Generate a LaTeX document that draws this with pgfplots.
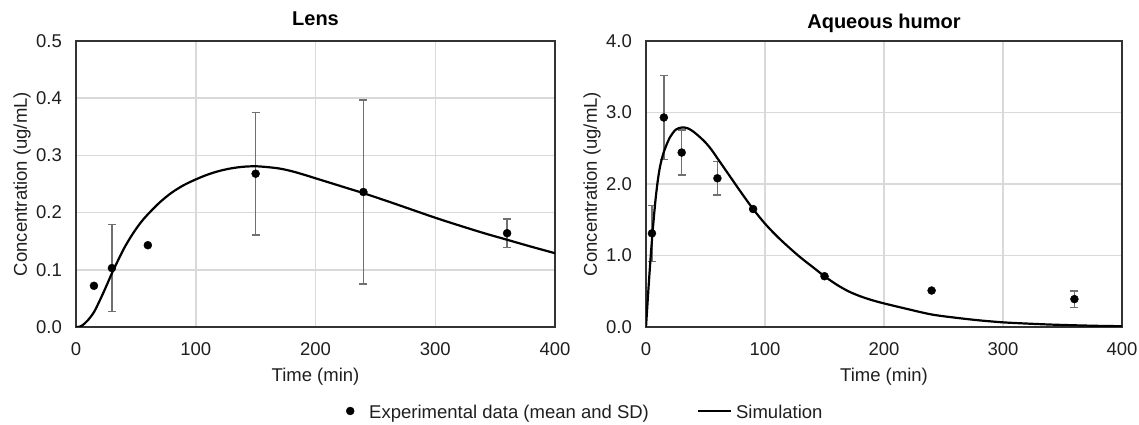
\documentclass[border=0pt]{standalone}
\usepackage{fontspec}
\setmainfont{Liberation Sans}
\usepackage{pgfplots}
\pgfplotsset{compat=1.18}
\definecolor{gridc}{HTML}{D9D9D9}
\definecolor{txt}{HTML}{1F1F1F}
\definecolor{errc}{HTML}{707070}
\definecolor{bord}{HTML}{333333}
\newcommand{\fs}{\fontsize{18.5}{22}\selectfont}
\pgfplotsset{
  chartstyle/.style={
    scale only axis,
    height=286pt,
    anchor=south west,
    xmin=0, xmax=400, xtick={0,100,200,300,400},
    ymin=0,
    grid=major,
    major grid style={draw=gridc, line width=1.5pt},
    axis line style={draw=bord, line width=1.3pt},
    major tick length=0pt,
    /pgf/number format/assume math mode=true,
    tick label style={font=\fs, text=txt},
    xticklabel style={anchor=north, inner sep=0pt, yshift=-15pt},
    yticklabel style={anchor=east, inner sep=0pt, xshift=-14pt, /pgf/number format/.cd, fixed, fixed zerofill, precision=1},
    every axis x label/.style={at={(rel axis cs:0.5,0)}, anchor=center, yshift=-50pt, font=\fs, text=txt},
    every axis y label/.style={at={(rel axis cs:0,0.5)}, anchor=center, xshift=-54pt, rotate=90, font=\fs, text=txt},
    xlabel={Time (min)},
    ylabel={Concentration (ug/mL)},
  },
  titlestyle/.style={every axis title/.style={at={(rel axis cs:0.5,1)}, anchor=base, yshift=#1, font=\fontsize{20}{24}\selectfont\bfseries, text=black}},
  datastyle/.style={only marks, mark=*, mark size=4pt, black,
    error bars/.cd, y dir=both, y explicit,
    error bar style={draw=errc, line width=1.4pt},
    error mark options={rotate=90, mark size=4pt, draw=errc, line width=1.4pt},
    /pgfplots/.cd},
  simstyle/.style={no marks, black, line width=2.2pt, smooth},
  dotlegend/.style={legend image code/.code={\path[draw=none, fill=none] (-4pt,2pt) -- (15pt,2pt); \fill[black] (0pt,2pt) circle[radius=4pt];}},
  linelegend/.style={legend image code/.code={\draw[##1] (0pt,2pt) -- (33pt,2pt);}},
}
\begin{document}
\begin{tikzpicture}
\useasboundingbox (0,0) rectangle (1139pt,425pt);
% ---------------- Lens ----------------
\begin{axis}[chartstyle, titlestyle=15pt,
  at={(76pt,98pt)}, width=479pt,
  ymax=0.5, ytick={0,0.1,0.2,0.3,0.4,0.5},
  title={Lens},
  legend columns=2,
  legend style={at={(0.5637,-0.3007)}, anchor=west, draw=none, fill=none,
    inner sep=0pt, outer sep=0pt, font=\fs, text=txt, nodes={inner sep=0pt},
    /tikz/every odd column/.append style={column sep=4pt},
    /tikz/every even column/.append style={column sep=48pt}},
]
\addplot[datastyle, dotlegend]
  coordinates {
  (15,0.072) +- (0,0)
  (30,0.103) +- (0,0.076)
  (60,0.143) +- (0,0)
  (150,0.268) +- (0,0.107)
  (240,0.236) +- (0,0.161)
  (360,0.164) +- (0,0.025)
};
\addlegendentry{Experimental data (mean and SD)}
\addplot[simstyle, linelegend]
  coordinates {
  (0,0) (3,0.0005) (6,0.004) (10,0.012) (15,0.026) (20,0.047) (25,0.07) (30,0.094)
  (35,0.116) (40,0.137) (45,0.155) (50,0.171) (55,0.185) (60,0.197)
  (70,0.218) (80,0.235) (90,0.248) (100,0.258) (110,0.2665) (120,0.273)
  (130,0.2775) (140,0.2802) (150,0.281) (160,0.2795) (170,0.277) (180,0.2725)
  (190,0.2665) (200,0.260) (210,0.2535) (220,0.247) (230,0.2405) (240,0.234)
  (260,0.220) (280,0.2055) (300,0.191) (320,0.1775) (340,0.1645) (360,0.1525)
  (380,0.1405) (400,0.129)
};
\addlegendentry{Simulation}
\end{axis}
% ---------------- Aqueous humor ----------------
\begin{axis}[chartstyle, titlestyle=12pt,
  at={(646pt,98pt)}, width=476pt,
  ymax=4, ytick={0,1,2,3,4},
  title={Aqueous humor},
]
\addplot[datastyle] coordinates {
  (5,1.31) +- (0,0.39)
  (15,2.93) +- (0,0.59)
  (30,2.44) +- (0,0.315)
  (60,2.08) +- (0,0.235)
  (90,1.65) +- (0,0)
  (150,0.71) +- (0,0)
  (240,0.51) +- (0,0)
  (360,0.39) +- (0,0.115)
};
\addplot[simstyle] coordinates {
  (0,0) (2,0.52) (4,1.0) (6,1.42) (8,1.78) (10,2.06) (12,2.26) (15,2.45)
  (20,2.65) (25,2.76) (30,2.79) (35,2.78) (40,2.73) (45,2.66) (50,2.58)
  (55,2.48) (60,2.36) (65,2.24) (70,2.12) (80,1.88) (90,1.65) (100,1.445)
  (110,1.27) (120,1.115) (130,0.97) (140,0.84) (150,0.71) (160,0.595)
  (170,0.50) (180,0.43) (190,0.375) (200,0.33) (220,0.25) (240,0.175)
  (260,0.13) (280,0.093) (300,0.065) (320,0.048) (340,0.034) (360,0.024)
  (380,0.016) (400,0.011)
};
\end{axis}
\end{tikzpicture}
\end{document}
